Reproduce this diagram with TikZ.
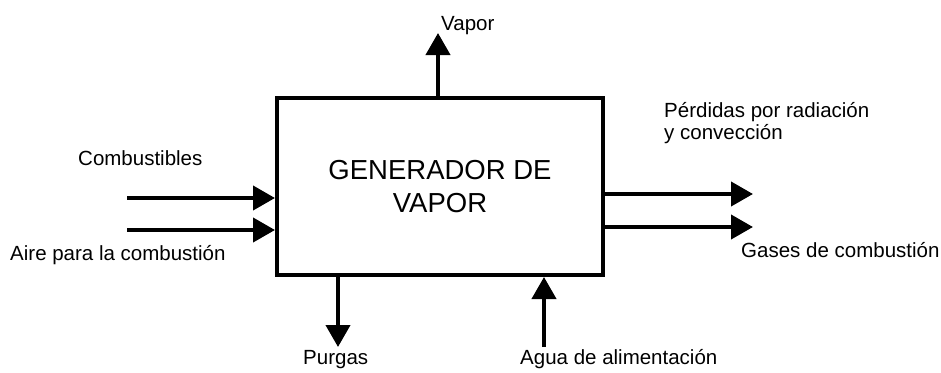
\documentclass[tikz,border=0pt]{standalone}
\usepackage{fontspec}
\setmainfont{Liberation Sans}
\usetikzlibrary{arrows.meta}
\begin{document}
\begin{tikzpicture}[x=1pt,y=-1pt,
  lbl/.style={anchor=base west,inner sep=0pt,font=\fontsize{20.5}{22}\selectfont},
  flow/.style={line width=4pt,-{Triangle[length=22pt,width=24pt]}},
  genbox/.style={draw,line width=4pt,minimum width=326pt,minimum height=177pt,
    align=center,font=\fontsize{27.5}{33}\selectfont}]
\useasboundingbox[fill=white] (0,0) rectangle (941,372);
\node[genbox] (gen) at (440,186.5) {GENERADOR DE\\VAPOR};
% coordinates of free ends
\coordinate (vapT) at (438,33);
\coordinate (comS) at (127,198);
\coordinate (airS) at (127,230);
\coordinate (perT) at (753,194);
\coordinate (gasT) at (753,227);
\coordinate (purT) at (338,347);
\coordinate (aguS) at (544,347);
% connectors
\draw[flow] (vapT |- gen.north) -- (vapT);
\draw[flow] (comS) -- (comS -| gen.west);
\draw[flow] (airS) -- (airS -| gen.west);
\draw[flow] (perT -| gen.east) -- (perT);
\draw[flow] (gasT -| gen.east) -- (gasT);
\draw[flow] (purT |- gen.south) -- (purT);
\draw[flow] (aguS) -- (aguS |- gen.south);
% labels
\node[lbl] (lvap) at (441,30) {Vapor};
\node[lbl] (lcom) at (78,165) {Combustibles};
\node[lbl] (lair) at (10,260) {Aire para la combustión};
\node[lbl,align=left] (lper) at (664,139) {Pérdidas por radiación\\y convección};
\node[lbl] (lgas) at (741,257) {Gases de combustión};
\node[lbl] (lpur) at (303,364) {Purgas};
\node[lbl] (lagu) at (520,364) {Agua de alimentación};
\end{tikzpicture}
\end{document}
